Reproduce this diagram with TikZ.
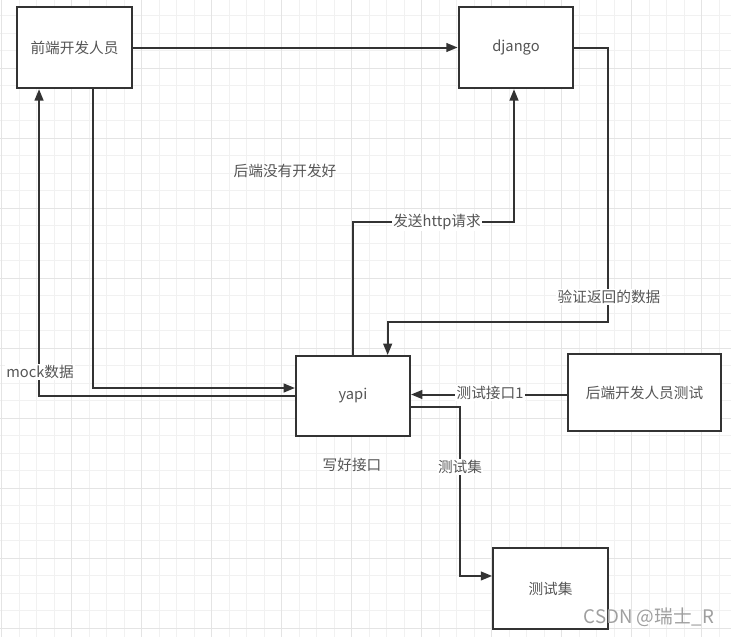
\documentclass[tikz,border=0pt]{standalone}
\usepackage{fontspec}
\setmainfont{Noto Sans CJK SC}
\usetikzlibrary{arrows.meta}
\definecolor{ln}{HTML}{333333}
\definecolor{tx}{HTML}{555555}
\definecolor{gminor}{HTML}{F1F1F1}
\definecolor{gmajor}{HTML}{E4E4E4}
\begin{document}
\begin{tikzpicture}[x=0.75pt, y=-0.75pt,
    box/.style={draw=ln, line width=1.5pt, fill=white, text=tx,
        font=\fontsize{11pt}{13pt}\selectfont, inner sep=0pt,
        minimum width=86pt, minimum height=61pt},
    flow/.style={draw=ln, line width=1.5pt, -{Triangle[length=8.5pt,width=6.5pt]}},
    lbl/.style={fill=white, text=tx, font=\fontsize{11pt}{13pt}\selectfont, inner sep=1pt}]
    \useasboundingbox (0,0) rectangle (731,637);
    \fill[white] (0,0) rectangle (731,637);

    \foreach \k in {0,...,41}
        \draw[gminor, line width=0.6pt] ({1.7+17.5*\k},0) -- ({1.7+17.5*\k},637);
    \foreach \k in {0,...,36}
        \draw[gminor, line width=0.6pt] (0,{15.5+17.5*\k}) -- (731,{15.5+17.5*\k});
    \foreach \k in {0,...,10}
        \draw[gmajor, line width=0.7pt] ({1.7+70*\k},0) -- ({1.7+70*\k},637);
    \foreach \k in {0,...,9}
        \draw[gmajor, line width=0.7pt] (0,{68+70*\k}) -- (731,{68+70*\k});

    \node[box] (fe) at (74.5,47.5) {前端开发人员};
    \node[box] (dj) at (516,47.5) {django};
    \node[box, minimum width=85.5pt, minimum height=60pt] (yapi) at (353,396) {yapi};
    \node[box, minimum width=115pt, minimum height=58pt] (betest) at (644.5,392.5) {后端开发人员测试};
    \node[box] (tset) at (550.5,588.5) {测试集};

    \coordinate (vr) at (608,322);
    \coordinate (hreq) at (437,222);
    \coordinate (tc) at (460,467);

    \draw[flow] (fe.east) -- (dj.west);
    \draw[flow] (dj.east) -| (vr) -| ([xshift=26pt]yapi.north);
    \draw[flow] (yapi.north) |- (hreq) -| ([xshift=-1.5pt]dj.south);
    \draw[flow] ([xshift=14pt]fe.south) |- ([yshift=6pt]yapi.west);
    \draw[flow] (yapi.west) -| ([xshift=-26.6pt]fe.south);
    \draw[flow] ([yshift=-1.5pt]betest.west) -- ([yshift=-1.5pt]betest.west -| yapi.east);
    \draw[flow] ([yshift=-8pt]yapi.east) -| (tc) |- ([yshift=9.4pt]tset.west);

    \node[lbl] (hreqlbl) at (hreq) {发送http请求};
    \node[lbl] (chklbl) at (609,297) {验证返回的数据};
    \node[lbl] (mocklbl) at (40,372) {mock数据};
    \node[lbl] (t1lbl) at (490,393) {测试接口1};
    \node[lbl] (tclbl) at (tc) {测试集};
    \node[text=tx, font=\fontsize{11pt}{13pt}\selectfont] (notdone) at (285,171) {后端没有开发好};
    \node[text=tx, font=\fontsize{11pt}{13pt}\selectfont] (wrote) at (352,465) {写好接口};
    \node[text=gray!75, font=\fontsize{14pt}{16pt}\selectfont] (mark) at (649,617) {CSDN @瑞士\_R};
\end{tikzpicture}
\end{document}
